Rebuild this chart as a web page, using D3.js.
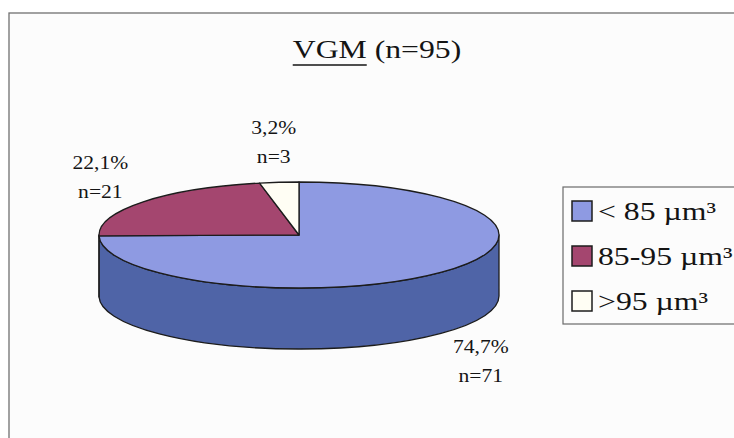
<!DOCTYPE html>
<html>
<head>
<meta charset="utf-8">
<script src="https://cdn.jsdelivr.net/npm/d3@7"></script>
<style>
  html, body { margin: 0; padding: 0; background: #ffffff; }
  svg text { font-family: "Liberation Serif", "Times New Roman", serif; }
</style>
</head>
<body>
<svg id="chart" width="734" height="438"></svg>
<script>
// --- data -------------------------------------------------------------
const categories = ["< 85 µm³", "85-95 µm³", ">95 µm³"];
const counts = [71, 21, 3];
const total = 95;
const titleMain = "VGM";
const titleRest = " (n=95)";

// colours: top face, side wall
const topColors  = ["#8e9ae2", "#a4466f", "#fffef4"];
const sideColors = ["#4f64a7", "#6e2a4a", "#d8d6c4"];

// --- layout -----------------------------------------------------------
const W = 734, H = 438;
const pie3d = { cx: 299, cy: 235, rx: 200, ry: 53, depth: 61 };
const STRETCH = 1.2;   // the scan is widened horizontally
const SERIF = "'Liberation Serif', 'Times New Roman', serif";
const INK = "#141414";

const svg = d3.select("#chart");

// frame
svg.append("rect")
  .attr("x", 9).attr("y", 13).attr("width", W).attr("height", H)
  .attr("fill", "#fcfcfc").attr("stroke", "#707070").attr("stroke-width", 1.3);

// title
const tg = svg.append("g").attr("transform", `translate(377,58) scale(1.22,1)`);
const title = tg.append("text")
  .attr("text-anchor", "middle")
  .attr("font-family", SERIF)
  .attr("font-size", 26)
  .attr("fill", INK);
title.append("tspan").text(titleMain);
title.append("tspan").text(titleRest);
const fullW = title.node().getComputedTextLength();
const mainW = title.node().getSubStringLength(0, titleMain.length);
tg.append("line")
  .attr("x1", -fullW / 2).attr("x2", -fullW / 2 + mainW)
  .attr("y1", 7).attr("y2", 7)
  .attr("stroke", INK).attr("stroke-width", 1.6);

// --- 3D pie -----------------------------------------------------------
const arcs = d3.pie().sort(null).value(d => d)(counts);
const color = d3.scaleOrdinal().domain(categories).range(topColors);
const side = d3.scaleOrdinal().domain(categories).range(sideColors);

const pt = (a, dy = 0) => [pie3d.cx + pie3d.rx * Math.sin(a), pie3d.cy - pie3d.ry * Math.cos(a) + dy];

function topPath(a0, a1) {
  const p0 = pt(a0), p1 = pt(a1);
  const large = (a1 - a0) > Math.PI ? 1 : 0;
  return `M${pie3d.cx},${pie3d.cy}L${p0}A${pie3d.rx},${pie3d.ry} 0 ${large} 1 ${p1}Z`;
}

// only the front half of the wall (right -> bottom -> left) is visible
function sidePath(a0, a1) {
  const s = Math.max(a0, Math.PI / 2), e = Math.min(a1, 3 * Math.PI / 2);
  if (e <= s) return null;
  const d = pie3d.depth;
  return `M${pt(s)}A${pie3d.rx},${pie3d.ry} 0 0 1 ${pt(e)}` +
         `L${pt(e, d)}A${pie3d.rx},${pie3d.ry} 0 0 0 ${pt(s, d)}Z`;
}

const gPie = svg.append("g");

arcs.forEach((a, i) => {
  const p = sidePath(a.startAngle, a.endAngle);
  if (p) gPie.append("path")
    .attr("d", p)
    .attr("fill", side(categories[i]))
    .attr("stroke", "#1c1c1c").attr("stroke-width", 1.3).attr("stroke-linejoin", "round");
});

arcs.forEach((a, i) => {
  gPie.append("path")
    .attr("d", topPath(a.startAngle, a.endAngle))
    .attr("fill", color(categories[i]))
    .attr("stroke", "#1c1c1c").attr("stroke-width", 1.3).attr("stroke-linejoin", "round");
});

// data labels
const pct = v => d3.format(".1f")(v / total * 100).replace(".", ",") + "%";
arcs.forEach((a, i) => {
  const m = (a.startAngle + a.endAngle) / 2;
  const below = Math.cos(m) < 0 ? pie3d.depth : 0;
  const [x, y] = pt(m, below);
  const cx = x + Math.sin(m) * 55, cy = y - Math.cos(m) * 40;
  const g = svg.append("g").attr("transform", `translate(${cx},${cy}) scale(${STRETCH},1)`);
  g.append("text").attr("text-anchor", "middle").attr("y", -8)
    .attr("font-family", SERIF).attr("font-size", 18).attr("fill", INK).text(pct(counts[i]));
  g.append("text").attr("text-anchor", "middle").attr("y", 21)
    .attr("font-family", SERIF).attr("font-size", 18).attr("fill", INK).text("n=" + counts[i]);
});

// --- legend -----------------------------------------------------------
svg.append("rect")
  .attr("x", 563).attr("y", 187).attr("width", 200).attr("height", 137)
  .attr("fill", "#fcfcfc").attr("stroke", "#6a6a6a").attr("stroke-width", 1.2);

const ly = d3.scalePoint().domain(categories).range([211, 301]);
categories.forEach((c, i) => {
  svg.append("rect")
    .attr("x", 572).attr("y", ly(c) - 10).attr("width", 20).attr("height", 20)
    .attr("fill", color(c)).attr("stroke", "#1c1c1c").attr("stroke-width", 1.5);
  svg.append("g").attr("transform", `translate(598,${ly(c) + 9}) scale(1.27,1)`)
    .append("text").attr("font-family", SERIF).attr("font-size", 25).attr("fill", INK).text(c);
});
</script>
</body>
</html>
